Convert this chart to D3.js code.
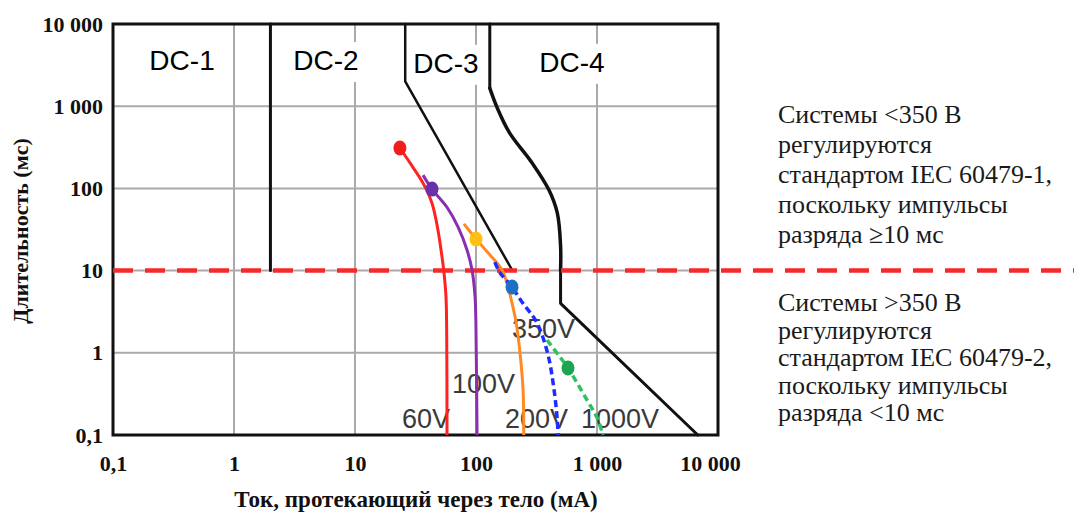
<!DOCTYPE html>
<html><head><meta charset="utf-8">
<script src="https://cdn.jsdelivr.net/npm/d3@7"></script>
<style>
body{margin:0;background:#fff;}
svg{display:block;}
</style></head><body>
<svg id="chart" width="1074" height="513"></svg>
<script>
// ---------- data ----------
const xTicks = [0.1, 1, 10, 100, 1000, 10000];
const xTickLabels = ["0,1", "1", "10", "100", "1 000", "10 000"];
const yTicks = [0.1, 1, 10, 100, 1000, 10000];
const yTickLabels = ["0,1", "1", "10", "100", "1 000", "10 000"];
const gridX = [1, 10, 100, 1000];
const gridY = [1, 10, 100, 1000];

// zone boundaries (mA, ms)
const boundaryDC12 = [[2, 10000], [2, 10]];
const boundaryDC23 = [[26, 10000], [26, 2000], [200, 10]];
const boundaryDC34Top = [[130, 10000], [130, 1660]];
const boundaryDC34Curve = [[130, 1660], [150, 950], [190, 470], [290, 205], [400, 96], [470, 50], [500, 20], [500, 10]];
const boundaryDC34Bottom = [[500, 10], [500, 4], [6800, 0.1]];

// body current curves (mA, ms)
const seriesNames = ["60V", "100V", "200V", "350V", "1000V"];
const curve60 = [[23.5, 310], [28.5, 204], [36.5, 116], [43.3, 66], [48.5, 31], [52.4, 14.6], [54.4, 9.4], [56.5, 4.8], [57.3, 1.5], [57.6, 0.1]];
const curve100 = [[36.5, 145], [43.3, 98], [57.6, 59], [71, 34], [84.3, 17.8], [92.7, 10.2], [98.2, 4.8], [100.5, 1], [102, 0.1]];
const curve200 = [[79.6, 37], [100, 24.2], [130.6, 15.5], [164, 10.2], [184, 6.3], [202, 3.6], [215, 2.3], [231, 1], [245, 0.35], [248, 0.1]];
const curve350 = [[143, 12.7], [158, 9.4], [198.5, 6.3], [244, 4], [315, 2.4], [390, 1], [440, 0.37], [470, 0.15], [476, 0.1]];
const curve1000 = [[386, 1.43], [494, 0.89], [576, 0.653], [826, 0.267], [995, 0.166], [1120, 0.1]];
const markerPoints = [[23.5, 310], [43.3, 98], [100, 24.2], [198.5, 6.3], [576, 0.653]];

const zoneNames = ["DC-1", "DC-2", "DC-3", "DC-4"];
const thresholdMs = 10;

const noteTop = ["Системы <350 В", "регулируются", "стандартом IEC 60479-1,", "поскольку импульсы", "разряда \u226510 мс"];
const noteBottom = ["Системы >350 В", "регулируются", "стандартом IEC 60479-2,", "поскольку импульсы", "разряда <10 мс"];

// ---------- layout / styles ----------
const svg = d3.select("#chart");
const x = d3.scaleLog().domain([0.1, 10000]).range([113, 718]);
const y = d3.scaleLog().domain([0.1, 10000]).range([435, 24]);
const serif = "'Liberation Serif','Times New Roman',serif";
const sans = "'Liberation Sans',Arial,sans-serif";

// gridlines
const grid = svg.append("g");
grid.selectAll("line.gx").data(gridX).join("line")
  .attr("x1", d => x(d)).attr("x2", d => x(d))
  .attr("y1", y(10000)).attr("y2", y(0.1))
  .attr("stroke", "#aaaaaa").attr("stroke-width", 2);
grid.selectAll("line.gy").data(gridY).join("line")
  .attr("y1", d => y(d)).attr("y2", d => y(d))
  .attr("x1", x(0.1)).attr("x2", x(10000))
  .attr("stroke", "#aaaaaa").attr("stroke-width", 2);

// zone labels with white backgrounds (positions in data space)
const zoneAnchor = [[0.372, 2757], [5.76, 2757], [56.5, 2550], [621, 2620]];
const boxW = [97, 100, 80, 108];
const zl = svg.append("g");
zoneNames.forEach((name, i) => {
  const cx = x(zoneAnchor[i][0]), by = y(zoneAnchor[i][1]);
  zl.append("rect").attr("x", cx - boxW[i] / 2).attr("y", by - 28)
    .attr("width", boxW[i]).attr("height", 40).attr("fill", "#fff");
  zl.append("text").attr("x", cx).attr("y", by).attr("text-anchor", "middle")
    .attr("font-family", sans).attr("font-size", 28).attr("fill", "#000")
    .text(name);
});

// frame
svg.append("rect").attr("x", x(0.1)).attr("y", y(10000))
  .attr("width", x(10000) - x(0.1)).attr("height", y(0.1) - y(10000))
  .attr("fill", "none").attr("stroke", "#111").attr("stroke-width", 3);

// axes
const yAxis = d3.axisLeft(y).tickValues(yTicks).tickSize(0).tickPadding(10)
  .tickFormat((d, i) => yTickLabels[i]);
const gy = svg.append("g").attr("transform", `translate(${x(0.1)},0)`).call(yAxis);
gy.select(".domain").remove();
gy.selectAll("text").attr("font-family", serif).attr("font-weight", "bold")
  .attr("font-size", 22).attr("fill", "#111");

const xAxis = d3.axisBottom(x).tickValues(xTicks).tickSize(0).tickPadding(20)
  .tickFormat((d, i) => xTickLabels[i]);
const gx = svg.append("g").attr("transform", `translate(0,${y(0.1)})`).call(xAxis);
gx.select(".domain").remove();
gx.selectAll("text").attr("font-family", serif).attr("font-weight", "bold")
  .attr("font-size", 22).attr("fill", "#111")
  .attr("dx", (d, i) => i === xTicks.length - 1 ? -8 : 0);

// axis titles
svg.append("text").attr("transform", "translate(28,231) rotate(-90)")
  .attr("text-anchor", "middle").attr("font-family", serif).attr("font-weight", "bold")
  .attr("font-size", 22).attr("fill", "#111").text("Длительность (мс)");
svg.append("text").attr("x", 416).attr("y", 507)
  .attr("text-anchor", "middle").attr("font-family", serif).attr("font-weight", "bold")
  .attr("font-size", 23).attr("fill", "#111").text("Ток, протекающий через тело (мА)");

// voltage labels (anchors in data space)
const labelAnchor = [[24.5, 0.122], [63.4, 0.324], [173.8, 0.122], [198.5, 1.51], [738, 0.122]];
svg.append("g").selectAll("text").data(seriesNames).join("text")
  .attr("x", (d, i) => x(labelAnchor[i][0])).attr("y", (d, i) => y(labelAnchor[i][1]))
  .attr("font-family", sans).attr("font-size", 27).attr("fill", "#3a3a3a")
  .text(d => d);

// boundaries
const lineLin = d3.line().x(d => x(d[0])).y(d => y(d[1]));
const lineSmooth = d3.line().x(d => x(d[0])).y(d => y(d[1])).curve(d3.curveCatmullRom.alpha(0.5));
const bnd = svg.append("g").attr("fill", "none").attr("stroke", "#111")
  .attr("stroke-linecap", "round").attr("stroke-linejoin", "round");
bnd.append("path").attr("d", lineLin(boundaryDC12)).attr("stroke-width", 3);
bnd.append("path").attr("d", lineLin(boundaryDC23)).attr("stroke-width", 2.5);
bnd.append("path").attr("d", lineLin(boundaryDC34Top)).attr("stroke-width", 3);
bnd.append("path").attr("d", lineSmooth(boundaryDC34Curve)).attr("stroke-width", 3.5);
bnd.append("path").attr("d", lineLin(boundaryDC34Bottom)).attr("stroke-width", 3);

// threshold dashed line
svg.append("line").attr("x1", x(0.1)).attr("x2", 1074)
  .attr("y1", y(thresholdMs)).attr("y2", y(thresholdMs))
  .attr("stroke", "#f52a2a").attr("stroke-width", 4.5).attr("stroke-dasharray", "20,12");

// series curves
const curves = [
  {d: curve60, c: "#ff2222", dash: null},
  {d: curve100, c: "#8a2fb0", dash: null},
  {d: curve200, c: "#ff8a24", dash: null},
  {d: curve350, c: "#1f2cff", dash: "7,4"},
  {d: curve1000, c: "#2fc060", dash: "7,4"}
];
const cg = svg.append("g").attr("fill", "none");
curves.forEach(s => {
  const p = cg.append("path").attr("d", lineSmooth(s.d)).attr("stroke", s.c)
    .attr("stroke-width", 3);
  if (s.dash) p.attr("stroke-dasharray", s.dash).attr("stroke-width", 3.5);
});

// markers
const markerColors = ["#f21d1d", "#6a32a8", "#ffc012", "#1e70c2", "#1aa650"];
svg.append("g").selectAll("ellipse").data(markerPoints).join("ellipse")
  .attr("cx", d => x(d[0])).attr("cy", d => y(d[1]))
  .attr("rx", 6.5).attr("ry", 7.5)
  .attr("fill", (d, i) => markerColors[i]);

// right notes
const notes = svg.append("g").attr("font-family", serif).attr("font-size", 26).attr("fill", "#1a1a1a");
notes.selectAll("text.t").data(noteTop).join("text").attr("class", "t")
  .attr("x", 778).attr("y", (d, i) => 123 + i * 30).text(d => d);
notes.selectAll("text.b").data(noteBottom).join("text").attr("class", "b")
  .attr("x", 778).attr("y", (d, i) => 311 + i * 27.6).text(d => d);
</script>
</body></html>
